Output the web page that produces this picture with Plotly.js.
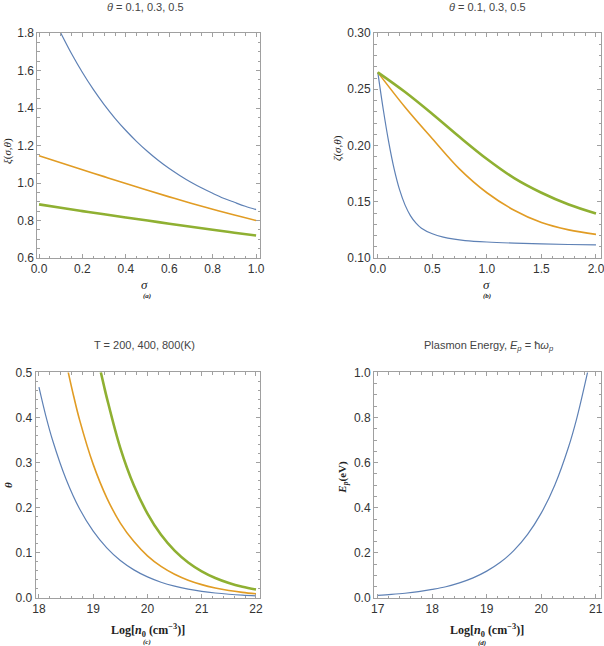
<!DOCTYPE html>
<html><head><meta charset="utf-8">
<script src="https://cdn.plot.ly/plotly-3.0.1.min.js"></script>
<style>html,body{margin:0;padding:0;background:#fff}#chart{width:604px;height:646px}</style>
</head><body><div id="chart"></div>
<script>
// ---- Panel (a): xi(sigma, theta), theta = 0.1, 0.3, 0.5
const sigmaA1 = [0.10,0.15,0.20,0.25,0.30,0.35,0.40,0.45,0.50,0.55,0.60,0.65,0.70,0.75,0.80,0.85,0.90,0.95,1.00];
const xiA1 = [1.800,1.689,1.589,1.499,1.418,1.345,1.280,1.221,1.168,1.120,1.077,1.039,1.004,0.973,0.945,0.919,0.897,0.876,0.858];
const sigmaA2 = [0.0,0.1,0.2,0.3,0.4,0.5,0.6,0.7,0.8,0.9,1.0];
const xiA2 = [1.145,1.108,1.071,1.034,0.997,0.961,0.926,0.892,0.860,0.829,0.800];
const sigmaA3 = [0.0,0.1,0.2,0.3,0.4,0.5,0.6,0.7,0.8,0.9,1.0];
const xiA3 = [0.886,0.868,0.850,0.833,0.816,0.800,0.783,0.767,0.751,0.735,0.720];

// ---- Panel (b): zeta(sigma, theta)
const sigmaB1 = [0,0.05,0.10,0.15,0.20,0.25,0.30,0.35,0.40,0.50,0.60,0.70,0.80,1.00,1.25,1.50,1.75,2.00];
const zetaB1 = [0.265,0.232,0.203,0.179,0.1605,0.147,0.1375,0.131,0.1265,0.1215,0.1185,0.1167,0.1155,0.1142,0.1132,0.1125,0.1120,0.1116];
const sigmaB2 = [0,0.25,0.5,0.75,1.0,1.25,1.5,1.75,2.0];
const zetaB2 = [0.265,0.234,0.206,0.179,0.158,0.1425,0.1315,0.125,0.121];
const sigmaB3 = [0,0.25,0.5,0.75,1.0,1.25,1.5,1.75,2.0];
const zetaB3 = [0.265,0.2475,0.228,0.2075,0.188,0.171,0.158,0.1475,0.1395];

// ---- Panel (c): theta vs Log[n0], T = 200, 400, 800 K
const nC1 = [18.00,18.125,18.25,18.50,18.75,19.00,19.25,19.50,19.75,20.00,20.25,20.50,20.75,21.00,21.25,21.50,21.75,22.00];
const thetaC1 = [0.467,0.404,0.350,0.263,0.197,0.148,0.111,0.083,0.0623,0.0467,0.0350,0.0263,0.0197,0.0148,0.0111,0.0083,0.0062,0.0047];
const nC2 = [18.54,18.64,18.75,19.00,19.25,19.50,19.75,20.00,20.25,20.50,20.75,21.00,21.25,21.50,21.75,22.00];
const thetaC2 = [0.500,0.447,0.394,0.296,0.222,0.166,0.125,0.0934,0.0700,0.0526,0.0394,0.0296,0.0222,0.0166,0.0125,0.0093];
const nC3 = [19.14,19.20,19.25,19.50,19.75,20.00,20.25,20.50,20.75,21.00,21.25,21.50,21.75,22.00];
const thetaC3 = [0.500,0.469,0.444,0.332,0.249,0.187,0.140,0.105,0.0788,0.0591,0.0443,0.0332,0.0249,0.0187];

// ---- Panel (d): plasmon energy
const nD = [17.00,17.25,17.50,17.75,18.00,18.25,18.50,18.75,19.00,19.25,19.50,19.75,20.00,20.25,20.50,20.65,20.85];
const epD = [0.012,0.016,0.021,0.028,0.038,0.050,0.067,0.089,0.119,0.158,0.211,0.282,0.376,0.501,0.668,0.794,1.000];

const C_BLUE = '#5E81B5', C_ORANGE = '#E19C24', C_GREEN = '#8FB032';
const W = 604, H = 646;

function line(x, y, xa, ya, color, width) {
  return {x: x, y: y, xaxis: xa, yaxis: ya, type: 'scatter', mode: 'lines',
    line: {color: color, width: width, shape: 'spline', smoothing: 1}, hoverinfo: 'skip', showlegend: false};
}

const traces = [
  line(sigmaA1, xiA1, 'x', 'y', C_BLUE, 1.2),
  line(sigmaA2, xiA2, 'x', 'y', C_ORANGE, 1.6),
  line(sigmaA3, xiA3, 'x', 'y', C_GREEN, 2.6),
  line(sigmaB1, zetaB1, 'x2', 'y2', C_BLUE, 1.2),
  line(sigmaB2, zetaB2, 'x2', 'y2', C_ORANGE, 1.6),
  line(sigmaB3, zetaB3, 'x2', 'y2', C_GREEN, 2.6),
  line(nC1, thetaC1, 'x3', 'y3', C_BLUE, 1.2),
  line(nC2, thetaC2, 'x3', 'y3', C_ORANGE, 1.6),
  line(nC3, thetaC3, 'x3', 'y3', C_GREEN, 2.6),
  line(nD, epD, 'x4', 'y4', C_BLUE, 1.2)
];

const FRAME = '#a0a0a0';
const TICKFONT = {family: 'Liberation Sans, Arial, sans-serif', size: 12, color: '#333'};
function ax(domPx, range, dtick, minorDtick, fmt, anchor, isY) {
  const dom = isY ? [1 - domPx[1] / H, 1 - domPx[0] / H] : [domPx[0] / W, domPx[1] / W];
  const a = {
    domain: dom, range: range, anchor: anchor, autorange: false, fixedrange: true,
    showline: true, linecolor: FRAME, linewidth: 1, mirror: 'ticks',
    ticks: 'inside', ticklen: 4, tickwidth: 1, tickcolor: FRAME,
    tickmode: 'linear', tick0: 0, dtick: dtick, tickformat: fmt,
    showgrid: false, zeroline: false, ticklabeloverflow: 'allow',
    tickfont: TICKFONT
  };
  if (!isY) a.minor = {ticks: 'inside', ticklen: 2.5, tickwidth: 1, tickcolor: FRAME, tickmode: 'linear', tick0: 0, dtick: minorDtick, showgrid: false};
  return a;
}
// overlay y axis carrying only the short minor ticks
function minorAx(range, dtick, anchor, overlaying) {
  return {
    range: range, anchor: anchor, overlaying: overlaying, autorange: false, fixedrange: true,
    showline: true, linecolor: FRAME, linewidth: 1, mirror: 'ticks',
    ticks: 'inside', ticklen: 2.5, tickwidth: 1, tickcolor: FRAME,
    tickmode: 'linear', tick0: 0, dtick: dtick, showticklabels: false,
    showgrid: false, zeroline: false
  };
}

const RA = {x: [-0.008, 1.018], y: [0.6, 1.8]};
const RB = {x: [-0.035, 2.046], y: [0.10, 0.30]};
const RC = {x: [17.94, 22.074], y: [0, 0.5]};
const RD = {x: [16.932, 21.097], y: [0, 1.0]};

const layout = {
  width: W, height: H, margin: {l: 0, r: 0, t: 0, b: 0},
  paper_bgcolor: '#fff', plot_bgcolor: 'rgba(0,0,0,0)', showlegend: false,
  xaxis:  ax([37.3, 260], RA.x, 0.2, 0.05, '.1f', 'y', false),
  yaxis:  ax([33, 258], RA.y, 0.2, 0.05, '.1f', 'x', true),
  xaxis2: ax([374, 601], RB.x, 0.5, 0.1, '.1f', 'y2', false),
  yaxis2: ax([33, 258], RB.y, 0.05, 0.01, '.2f', 'x2', true),
  xaxis3: ax([35.7, 260], RC.x, 1, 0.2, 'd', 'y3', false),
  yaxis3: ax([372.3, 598], RC.y, 0.1, 0.02, '.1f', 'x3', true),
  xaxis4: ax([374, 601], RD.x, 1, 0.2, 'd', 'y4', false),
  yaxis4: ax([372.3, 598], RD.y, 0.2, 0.05, '.1f', 'x4', true),
  yaxis5: minorAx(RA.y, 0.05, 'x', 'y'),
  yaxis6: minorAx(RB.y, 0.01, 'x2', 'y2'),
  yaxis7: minorAx(RC.y, 0.02, 'x3', 'y3'),
  yaxis8: minorAx(RD.y, 0.05, 'x4', 'y4'),
  annotations: []
};
[['x','y5'],['x2','y6'],['x3','y7'],['x4','y8']].forEach(p => {
  traces.push({x: [], y: [], xaxis: p[0], yaxis: p[1], type: 'scatter', mode: 'lines', showlegend: false, hoverinfo: 'skip'});
});

function ann(text, px, py, size, family, color, angle) {
  layout.annotations.push({text: text, x: px / W, y: 1 - py / H, xref: 'paper', yref: 'paper',
    xanchor: 'center', yanchor: 'middle', showarrow: false, textangle: angle || 0,
    font: {family: family, size: size, color: color}});
}
const SANS = 'Liberation Sans, Arial, sans-serif';
const SERIF = 'Liberation Serif, Times New Roman, serif';

ann('<i>θ</i> = 0.1, 0.3, 0.5', 145, 7, 11, SANS, '#444');
ann('<i>θ</i> = 0.1, 0.3, 0.5', 487.5, 7, 11, SANS, '#444');
ann('T = 200, 400, 800(K)', 144.5, 345, 11, SANS, '#444');
ann('Plasmon Energy, <i>E</i><sub><i>p</i></sub> = ħ<i>ω</i><sub><i>p</i></sub>', 488.5, 346, 11, SANS, '#444');

ann('<i>σ</i>', 144, 284, 13, SERIF, '#222');
ann('<b><i>(a)</i></b>', 147, 296, 7, SERIF, '#222');
ann('<i>σ</i>', 486.7, 284, 13, SERIF, '#222');
ann('<b><i>(b)</i></b>', 486.7, 296, 7, SERIF, '#222');
ann('<b>Log[<i>n</i><sub>0</sub> (cm<sup>−3</sup>)]</b>', 148, 630, 12, SERIF, '#222');
ann('<b><i>(c)</i></b>', 147, 642, 7, SERIF, '#222');
ann('<b>Log[<i>n</i><sub>0</sub> (cm<sup>−3</sup>)]</b>', 486.7, 630, 12, SERIF, '#222');
ann('<b><i>(d)</i></b>', 482, 642.5, 7, SERIF, '#222');

ann('<i>ξ</i>(<i>σ</i>,<i>θ</i>)', 7, 151, 11, SERIF, '#222', -90);
ann('<i>ζ</i>(<i>σ</i>,<i>θ</i>)', 337, 148, 11, SERIF, '#222', -90);
ann('<b><i>θ</i></b>', 8, 485, 11, SERIF, '#222', -90);
ann('<b><i>E</i><sub><i>p</i></sub>(eV)</b>', 342.7, 477, 11, SERIF, '#222', -90);

Plotly.newPlot('chart', traces, layout, {staticPlot: true, displayModeBar: false});
</script></body></html>
